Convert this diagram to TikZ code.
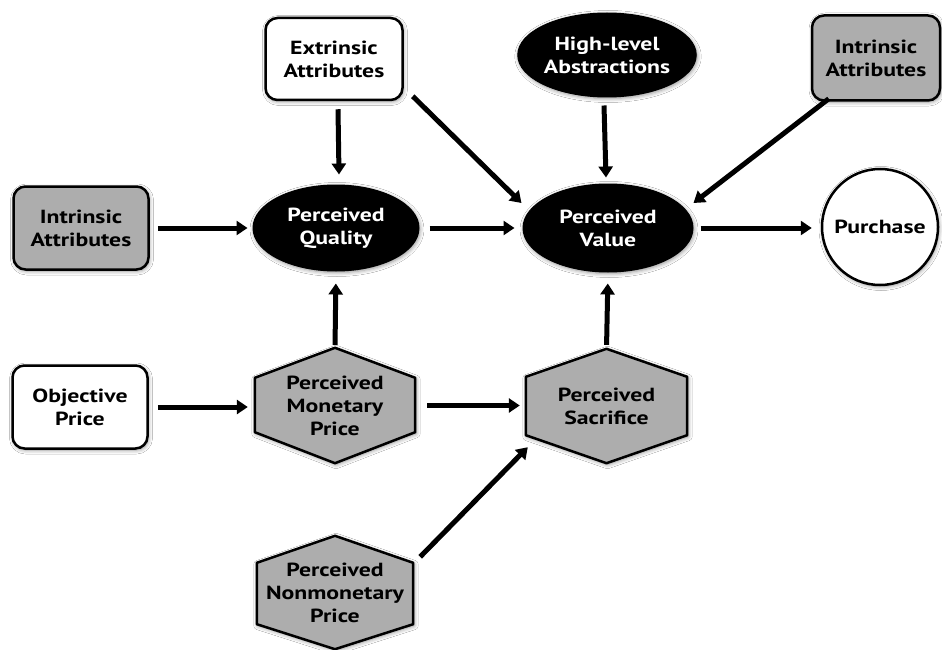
\documentclass[tikz,border=0pt]{standalone}
\usepackage{fontspec}
\setmainfont{PT Sans}[FakeStretch=1.25]
\usetikzlibrary{shapes.geometric, shadows.blur, arrows.meta, calc, backgrounds}

\begin{document}
\begin{tikzpicture}[x=1pt, y=-1pt,
  every node/.style={font=\fontsize{19}{23}\selectfont\bfseries, align=center, inner sep=0pt},
  glow/.style={blur shadow={shadow xshift=1pt, shadow yshift=-1.5pt, shadow blur radius=4pt, shadow opacity=45}},
  boxnode/.style={draw=black, line width=2.5pt, rounded corners=12pt, minimum width=137pt, minimum height=82pt, glow},
  whitebox/.style={boxnode, fill=white},
  graybox/.style={boxnode, fill=black!32},
  darkoval/.style={ellipse, fill=black, draw=black, line width=1pt, text=white, glow},
  hexnode/.style={minimum width=160pt, minimum height=115pt},
  hexshape/.style={draw=black, line width=2.5pt, fill=black!32, line join=round, glow},
  arr/.style={line width=5pt, -{Triangle[length=11pt, width=14pt]}},
]
\useasboundingbox (0,0) rectangle (942,650);

% attribute boxes and concept ovals
\node[whitebox] (ext) at (334,59) {Extrinsic\\Attributes};
\node[darkoval, minimum width=168pt, minimum height=84pt] (hla) at (607,55) {High-level\\Abstractions};
\node[graybox, minimum width=128pt, minimum height=85pt] (iat) at (876,58) {Intrinsic\\Attributes};
\node[graybox, minimum width=135pt, minimum height=83pt] (ial) at (81,228) {Intrinsic\\Attributes};
\node[darkoval, minimum width=166pt, minimum height=86pt] (pq) at (336,228) {Perceived\\Quality};
\node[darkoval, minimum width=170pt, minimum height=88pt] (pv) at (608,228) {Perceived\\Value};
\node[circle, draw=black, line width=2.5pt, fill=white, minimum size=116pt, glow] (pur) at (880,227) {Purchase};
\node[whitebox, minimum width=135pt, minimum height=83pt] (op) at (80,407) {Objective\\Price};

% price / sacrifice nodes (outlined as hexagons below)
\node[hexnode] (pmp) at (335,405.5) {Perceived\\Monetary\\Price};
\node[hexnode, minimum width=161pt, minimum height=114pt] (ps) at (606.5,406) {Perceived\\Sacrifice};
\node[hexnode, minimum width=156pt, minimum height=113pt] (pnp) at (335,592.5) {Perceived\\Nonmonetary\\Price};

\begin{scope}[on background layer]
  \fill[white] (0,0) rectangle (942,650);
  \path[hexshape] (pmp.north) -- ($(pmp.north west)+(0,30)$) -- ($(pmp.south west)+(0,-31)$)
     -- (pmp.south) -- ($(pmp.south east)+(0,-31)$) -- ($(pmp.north east)+(0,30)$) -- cycle;
  \path[hexshape] (ps.north) -- ($(ps.north west)+(0,28)$) -- ($(ps.south west)+(0,-28)$)
     -- (ps.south) -- ($(ps.south east)+(0,-28)$) -- ($(ps.north east)+(0,28)$) -- cycle;
  \path[hexshape] (pnp.north) -- ($(pnp.north west)+(0,27)$) -- ($(pnp.south west)+(0,-25)$)
     -- (pnp.south) -- ($(pnp.south east)+(0,-25)$) -- ($(pnp.north east)+(0,27)$) -- cycle;
\end{scope}

% influences
\draw[arr] ($(ext.south)+(4,8)$) -- ($(pq.north)+(3,-10)$);
\draw[arr] ($(ext.south east)+(9,-5)$) -- ($(pv.west)+(-1,-25)$);
\draw[arr] ($(hla.south)+(-3,8)$) -- ($(pv.north)+(-2,-6)$);
\draw[arr] ($(iat.south west)+(18,-3)$) -- ($(pv.east)+(0,-25)$);
\draw[arr, shorten <=8pt, shorten >=5pt] (ial.east) -- (pq.west);
\draw[arr, shorten <=10pt, shorten >=8pt] (pq.east) -- (pv.west);
\draw[arr, shorten <=7pt, shorten >=9pt] (pv.east) -- (pv.east -| pur.west);
\draw[arr, shorten <=3pt, shorten >=12pt] (pmp.north) -- (pq.south);
\draw[arr, shorten <=9pt, shorten >=7pt] (op.east) -- (op.east -| pmp.west);
\draw[arr, shorten <=12pt, shorten >=6pt] (pmp.east) -- (pmp.east -| ps.west);
\draw[arr, shorten <=4pt, shorten >=11pt] (ps.north) -- (pv.south);
\draw[arr] ($(pnp.north east)+(7,21)$) -- ($(ps.south west)+(2,-16)$);
\end{tikzpicture}
\end{document}
